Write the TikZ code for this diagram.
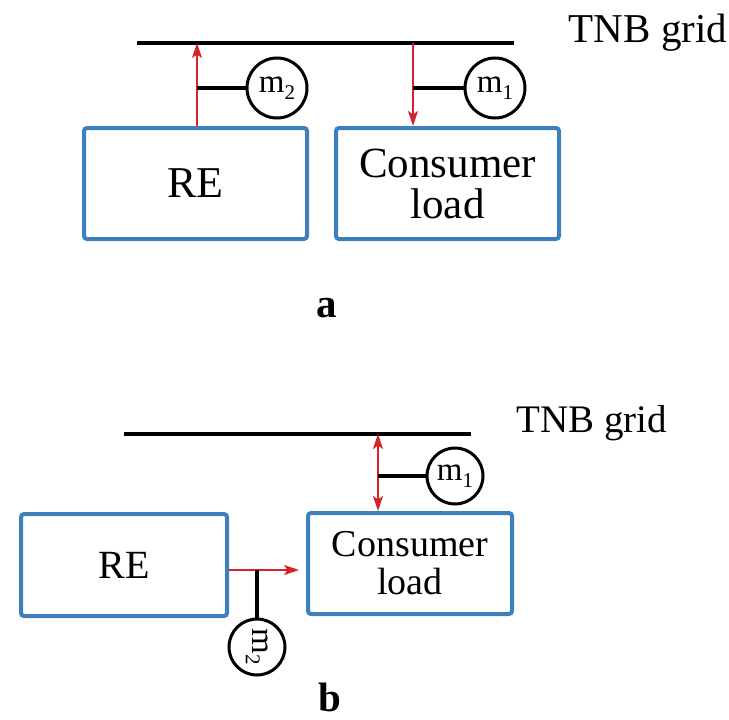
\documentclass[tikz,border=0pt]{standalone}
\usepackage{fontspec}
\setmainfont{Liberation Serif}
\usetikzlibrary{arrows.meta}
\definecolor{boxblue}{RGB}{62,128,190}
\definecolor{flowred}{RGB}{212,35,42}
\newcommand{\msub}[1]{m\raisebox{-0.45ex}{\fontsize{21}{21}\selectfont #1}}
\tikzset{
  unitbox/.style={draw=boxblue, line width=4pt, rounded corners=3pt, align=center, inner sep=0pt},
  meter/.style={draw=black, circle, line width=3pt, inner sep=0pt, font=\fontsize{33}{33}\selectfont},
  gridline/.style={line width=3.6pt},
  stub/.style={line width=3.2pt},
  flow/.style={draw=flowred, line width=2pt, >={Stealth[length=15pt,width=10pt,inset=3.5pt]}},
  panellabel/.style={font=\fontsize{41}{40}\selectfont\bfseries, inner sep=0pt, anchor=base},
}
\begin{document}
\begin{tikzpicture}[x=1pt,y=-1pt]
\useasboundingbox (0,0) rectangle (729,720);
% ---------- panel a ----------
\coordinate (gA1) at (137,43);
\coordinate (gA2) at (514,43);
\coordinate (tA1) at (197,43);
\coordinate (tA2) at (413,43);
\draw[gridline] (gA1) -- (gA2);
\node[font=\fontsize{41}{40}\selectfont] (tnbA) at (648,33) {TNB grid};
\node[unitbox, minimum width=223pt, minimum height=111pt, font=\fontsize{44}{40}\selectfont] (REa) at (195.5,183.5) {RE};
\node[unitbox, minimum width=223pt, minimum height=111pt, font=\fontsize{43}{41}\selectfont] (CLa) at (447.5,183.5) {Consumer\\load};
\node[meter, minimum size=60pt] (m2a) at (277,88) {\msub{2}};
\node[meter, minimum size=60pt] (m1a) at (495,88) {\msub{1}};
\draw[flow, ->] (tA1 |- REa.north) -- (tA1);
\draw[flow, ->] (tA2) -- (tA2 |- CLa.north);
\draw[stub] (m2a) -- (m2a -| tA1);
\draw[stub] (m1a) -- (m1a -| tA2);
\node[panellabel] (la) at (327,317) {a};
% ---------- panel b ----------
\coordinate (gB1) at (124,434);
\coordinate (gB2) at (471,434);
\coordinate (tB) at (378,434);
\coordinate (hB) at (0,570);
\draw[gridline] (gB1) -- (gB2);
\node[font=\fontsize{39}{40}\selectfont] (tnbB) at (592,423) {TNB grid};
\node[unitbox, minimum width=206pt, minimum height=102pt, font=\fontsize{40}{36}\selectfont] (REb) at (124,565) {RE};
\node[unitbox, minimum width=204pt, minimum height=101pt, font=\fontsize{38}{38}\selectfont] (CLb) at (410,563.5) {Consumer\\load};
\node[meter, minimum size=56pt] (m1b) at (455,476) {\msub{1}};
\node[meter, minimum size=56pt, rotate=-90] (m2b) at (257,647) {\msub{2}};
\draw[flow, <->] (tB) -- (tB |- CLb.north);
\draw[stub] (m1b) -- (m1b -| tB);
\draw[flow, ->] (REb.east |- hB) -- ([xshift=-7pt]CLb.west |- hB);
\draw[stub] (m2b) -- (m2b |- hB);
\node[panellabel] (lb) at (330,711) {b};
\end{tikzpicture}
\end{document}
